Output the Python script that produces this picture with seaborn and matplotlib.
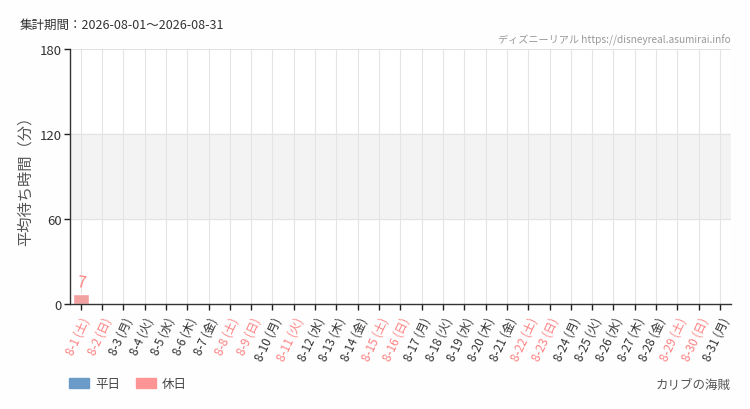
import numpy as np
import pandas as pd
import matplotlib
matplotlib.use("Agg")
import matplotlib.pyplot as plt
import matplotlib.patches as mpatches
import seaborn as sns

# data
days = [f"8-{d}" for d in range(1, 32)]
weekdays = ["土", "日", "月", "火", "水", "木", "金"] * 5
weekdays = weekdays[:31]
holidays = [1, 2, 8, 9, 11, 15, 16, 22, 23, 29, 30]
wait_times = [7] + [np.nan] * 30

tick_labels = [f"{d} ({w})" for d, w in zip(days, weekdays)]
kind = ["休日" if i + 1 in holidays else "平日" for i in range(31)]

df = pd.DataFrame({"day": tick_labels, "wait": wait_times, "kind": kind})

sns.set_theme(style="white")
plt.rcParams["font.family"] = ["Noto Sans CJK JP", "DejaVu Sans"]

weekday_color = "#6b9bc9"
holiday_color = "#ff9494"
holiday_text = "#ff8080"
text_color = "#444444"

fig = plt.figure(figsize=(7.5, 4.1), dpi=100)
fig.patch.set_facecolor("#fefefe")
ax = fig.add_axes([0.0933, 0.256, 0.881, 0.622])
ax.set_facecolor("white")

ax.axhspan(60, 120, color="#f3f3f3", zorder=0)
for y in [60, 120, 180]:
    ax.axhline(y, color="#e2e2e2", lw=0.8, zorder=0.5)
for i in range(31):
    ax.axvline(i, color="#e4e4e4", lw=0.8, zorder=0.5)

sns.barplot(data=df, x="day", y="wait", hue="kind",
            palette={"平日": weekday_color, "休日": holiday_color},
            dodge=False, width=0.75, legend=False, ax=ax, zorder=2)

for i, v in enumerate(wait_times):
    if not np.isnan(v):
        c = holiday_text if kind[i] == "休日" else text_color
        ax.text(i, v + 2, f"{int(v)}", ha="center", va="bottom", color=c,
                fontsize=11, style="italic", rotation=-8)

ax.set_xlim(-0.5, 30.5)
ax.set_ylim(0, 180)
ax.set_yticks([0, 60, 120, 180])
ax.set_yticklabels(["0", "60", "120", "180"], color="#333333", fontsize=9.5)
ax.set_xticks(range(31))
ax.set_xticklabels(tick_labels, rotation=65, ha="right", rotation_mode="anchor", fontsize=8.5)
for lab, k in zip(ax.get_xticklabels(), kind):
    lab.set_color(holiday_text if k == "休日" else "#333333")
ax.tick_params(axis="both", length=4, width=1, color="#222222", direction="out",
               bottom=True, left=True, pad=2)
ax.tick_params(axis="x", pad=4)

for s in ["top", "right"]:
    ax.spines[s].set_visible(False)
for s in ["left", "bottom"]:
    ax.spines[s].set_color("#333333")
    ax.spines[s].set_linewidth(1)

ax.set_xlabel("")
ax.set_ylabel("平均待ち時間（分）", fontsize=11, color="#555555", labelpad=4)

fig.text(20 / 750, 1 - 25 / 410, "集計期間：2026-08-01～2026-08-31", fontsize=9,
         color="#333333", va="center", ha="left")
fig.text(731 / 750, 1 - 40 / 410, "ディズニーリアル https://disneyreal.asumirai.info",
         fontsize=7.3, color="#999999", va="center", ha="right")
fig.text(731 / 750, 1 - 385 / 410, "カリブの海賊", fontsize=9, color="#555555",
         va="center", ha="right")

handles = [mpatches.Patch(color=weekday_color, label="平日"),
           mpatches.Patch(color=holiday_color, label="休日")]
fig.legend(handles=handles, loc="center left", bbox_to_anchor=(58 / 750, 1 - 385 / 410),
           ncol=2, frameon=False, fontsize=9, handlelength=1.6, handleheight=0.8,
           columnspacing=1.2, handletextpad=0.5, labelcolor="#444444")

fig.savefig("out.png", dpi=100, facecolor=fig.get_facecolor())
